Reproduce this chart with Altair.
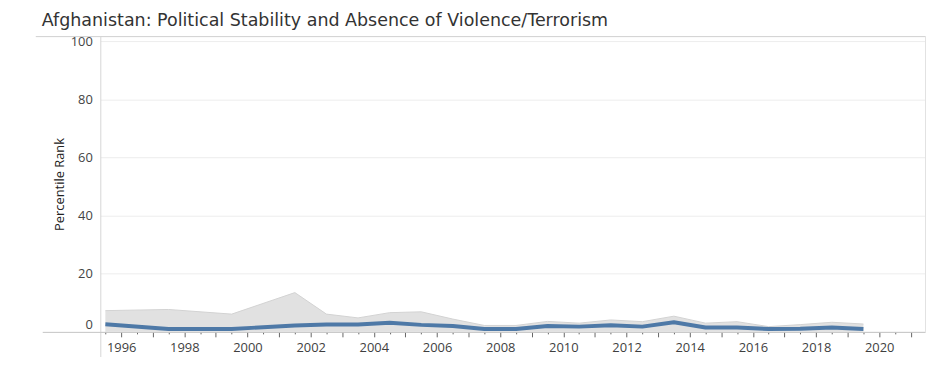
import altair as alt
import pandas as pd

title_text = "Afghanistan: Political Stability and Absence of Violence/Terrorism"
y_title = "Percentile Rank"

years = [1996, 1998, 2000, 2002, 2003, 2004, 2005, 2006, 2007, 2008, 2009,
         2010, 2011, 2012, 2013, 2014, 2015, 2016, 2017, 2018, 2019, 2020]
percentile_rank = [2.6, 1.0, 1.0, 2.2, 2.5, 2.5, 3.1, 2.4, 2.0, 1.0, 1.0,
                   2.0, 1.8, 2.3, 1.8, 3.3, 1.5, 1.5, 1.0, 1.1, 1.5, 1.0]
upper_bound = [7.3, 7.7, 6.1, 13.5, 6.1, 4.8, 6.6, 6.9, 4.4, 2.2, 2.2,
               3.6, 3.0, 4.1, 3.5, 5.4, 3.0, 3.5, 1.8, 2.5, 3.3, 2.7]
lower_bound = [0, 0, 0, 0, 0, 0, 0, 0, 0, 0, 0,
               0, 0, 0, 0, 0, 0, 0, 0, 0, 0, 0]

axis_years = [1996, 1997, 1998, 1999, 2000, 2001, 2002, 2003, 2004, 2005,
              2006, 2007, 2008, 2009, 2010, 2011, 2012, 2013, 2014, 2015,
              2016, 2017, 2018, 2019, 2020, 2021]
y_ticks = [0, 20, 40, 60, 80, 100]

df = pd.DataFrame({"year": years, "rank": percentile_rank,
                   "upper": upper_bound, "lower": lower_bound})
one = pd.DataFrame({"k": [0]})

W, H = 831, 298
FONT = "Open Sans"

xscale = alt.Scale(domain=[1995.84, 2021.95], nice=False, zero=False)
yscale = alt.Scale(domain=[0, 101.7], nice=False, zero=True)

yaxis = alt.Axis(
    values=y_ticks, grid=True, gridColor="#ededed", gridWidth=1,
    ticks=False, domain=False, labelPadding=8, labelFont=FONT,
    labelFontSize=13, labelColor="#444444",
    labelBaseline={"condition": {"test": "datum.value == 0", "value": "bottom"},
                   "value": "middle"},
    title=y_title, titleFont=FONT, titleFontSize=13, titleFontWeight="normal",
    titleColor="#222222", titleX=-41, titleY=149, titleAngle=270,
    titleAlign="center", titleBaseline="middle",
)

major_axis = alt.Axis(
    orient="bottom", values=[y + 0.5 for y in axis_years],
    labelExpr="floor(datum.value) % 2 == 0 ? toString(floor(datum.value)) : ''",
    labelOverlap=False, labelFlush=False, tickSize=5, tickColor="#666666",
    tickWidth=1, domain=False, grid=False, labelFont=FONT, labelFontSize=13,
    labelColor="#3f3f3f", labelPadding=5, title="",
)
minor_axis = alt.Axis(
    orient="bottom", values=axis_years, labels=False, tickSize=2,
    tickColor="#666666", tickWidth=1, domain=False, grid=False, title="",
)

band = alt.Chart(df).mark_area(color="#e1e1e1", opacity=1).encode(
    x=alt.X("year:Q", scale=xscale, axis=major_axis),
    y=alt.Y("upper:Q", scale=yscale, axis=yaxis),
    y2="lower:Q",
)
band_edge = alt.Chart(df).mark_line(color="#d3d3d3", strokeWidth=1).encode(
    x=alt.X("year:Q", scale=xscale, axis=None),
    y=alt.Y("upper:Q", scale=yscale, axis=yaxis),
)
line = alt.Chart(df).mark_line(color="#4e79a7", strokeWidth=4,
                               strokeJoin="round").encode(
    x=alt.X("year:Q", scale=xscale, axis=minor_axis),
    y=alt.Y("rank:Q", scale=yscale, axis=yaxis),
)


def hrule(x, x2, y, color):
    return alt.Chart(one).mark_rule(color=color, strokeWidth=1).encode(
        x=alt.value(x), x2=alt.value(x2), y=alt.value(y))


def vrule(x, y, y2, color):
    return alt.Chart(one).mark_rule(color=color, strokeWidth=1).encode(
        x=alt.value(x), y=alt.value(y), y2=alt.value(y2))


frame = [
    hrule(-65, W + 0.5, 0.5, "#d0d0d0"),
    vrule(0.5, 0, H + 30, "#d6d6d6"),
    vrule(W + 0.5, 0, H, "#e2e2e2"),
    hrule(-58, W + 0.5, H + 0.5, "#c4c4c4"),
]

chart = alt.layer(band, band_edge, *frame, line).resolve_axis(
    x="independent"
).properties(
    width=W, height=H,
    autosize=alt.AutoSizeParams(type="none"),
    padding={"left": 93, "top": 27, "right": 3, "bottom": 24},
    title=alt.TitleParams(
        text=title_text, anchor="start", frame="group", dx=-59, dy=-2,
        font="DejaVu Sans", fontSize=17.6, fontWeight="normal",
        color="#333333",
    ),
).configure_view(stroke="transparent")

chart.save("out.html", embed_options={"renderer": "svg", "actions": False})
